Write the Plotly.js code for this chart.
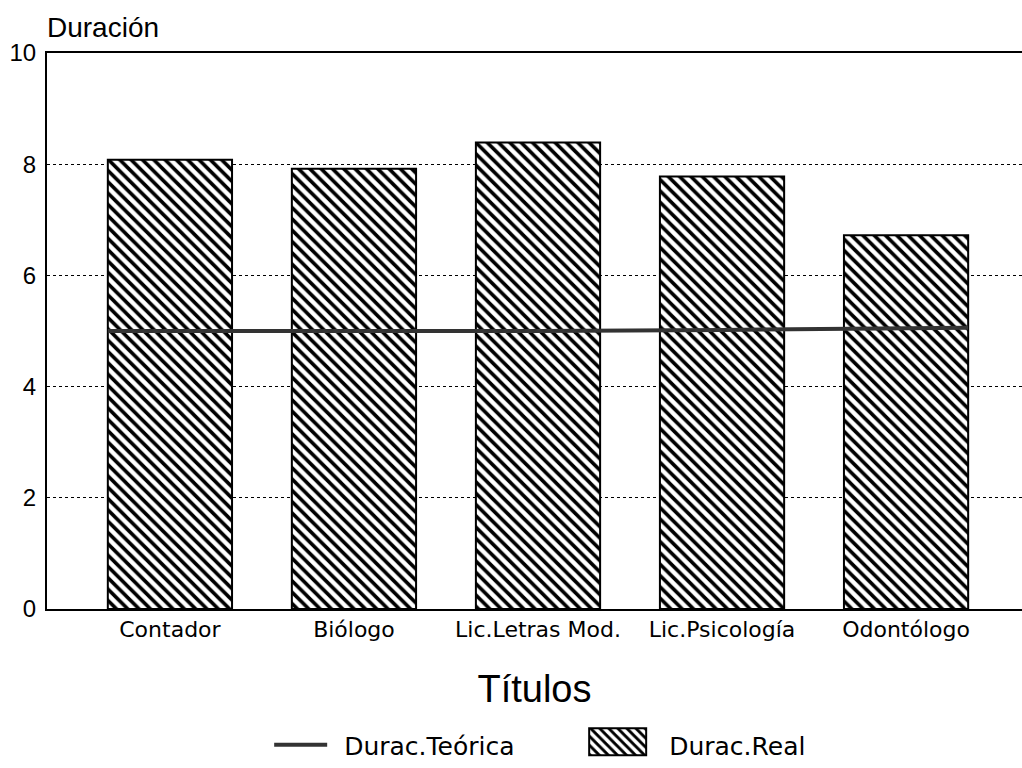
<!DOCTYPE html>
<html>
<head>
<meta charset="utf-8">
<script src="https://cdn.plot.ly/plotly-3.0.1.min.js"></script>
<style>html,body{margin:0;padding:0;background:#fff;}#chart{width:1022px;height:768px;}</style>
</head>
<body>
<div id="chart"></div>
<script>
// Data
const categories = ["Contador", "Biólogo", "Lic.Letras Mod.", "Lic.Psicología", "Odontólogo"];
const duracReal = [8.08, 7.92, 8.39, 7.78, 6.72];
const duracTeorica = [5.0, 5.0, 5.0, 5.02, 5.06];
const yTicks = [0, 2, 4, 6, 8, 10];

const barWidth = 0.675;
const idx = categories.map((_, i) => i);

// Theoretical line spans from left edge of first bar to right edge of last bar
const lineX = [idx[0] - barWidth / 2].concat(idx, [idx[idx.length - 1] + barWidth / 2]);
const lineY = [duracTeorica[0]].concat(duracTeorica, [duracTeorica[duracTeorica.length - 1]]);

const SANS = "Liberation Sans, Arial, sans-serif";
const WIDE = "DejaVu Sans, Verdana, sans-serif";

const traces = [
  {
    type: "bar",
    name: "Durac.Real",
    x: idx,
    y: duracReal,
    width: barWidth,
    marker: {
      color: "#ffffff",
      line: {color: "#000000", width: 2},
      pattern: {shape: "\\", fgcolor: "#000000", bgcolor: "#ffffff", size: 8, solidity: 0.45}
    },
    hoverinfo: "skip"
  },
  {
    type: "scatter",
    mode: "lines",
    name: "Durac.Teórica",
    x: lineX,
    y: lineY,
    line: {color: "#333333", width: 4},
    hoverinfo: "skip"
  }
];

const layout = {
  width: 1022,
  height: 768,
  margin: {l: 47, r: 0, t: 53, b: 157},
  paper_bgcolor: "#ffffff",
  plot_bgcolor: "#ffffff",
  font: {family: SANS, color: "#000000"},
  showlegend: true,
  legend: {
    orientation: "h",
    x: 0.233, xanchor: "left",
    y: -0.245, yanchor: "middle",
    traceorder: "reversed",
    font: {family: WIDE, size: 25, color: "#000"},
    entrywidth: 250,
    itemwidth: 60
  },
  xaxis: {
    range: [-0.668, 4.63],
    tickvals: idx,
    ticktext: categories,
    tickfont: {family: WIDE, size: 22, color: "#000"},
    ticks: "",
    showgrid: false,
    zeroline: false,
    showline: true,
    linecolor: "#000",
    linewidth: 2,
    mirror: true,
    automargin: false,
    ticklabelstandoff: 0,
    title: {text: "Títulos", font: {family: SANS, size: 38, color: "#000"}, standoff: 34}
  },
  yaxis: {
    range: [0, 10],
    tickvals: yTicks,
    ticktext: yTicks.map(String),
    tickfont: {family: SANS, size: 24, color: "#000"},
    ticks: "",
    showgrid: true,
    gridcolor: "#000",
    gridwidth: 1,
    griddash: "dot",
    zeroline: false,
    showline: true,
    linecolor: "#000",
    linewidth: 2,
    automargin: false,
    ticklabelstandoff: 4
  },
  annotations: [
    {
      text: "Duración",
      xref: "paper", yref: "paper",
      x: -0.002, y: 1.045,
      xanchor: "left", yanchor: "middle",
      showarrow: false,
      font: {family: SANS, size: 28, color: "#000"}
    }
  ]
};

Plotly.newPlot("chart", traces, layout, {displayModeBar: false, staticPlot: true}).then(function (gd) {
  // enlarge legend symbols to resemble the reference key
  gd.querySelectorAll(".legend .traces").forEach(function (tr) {
    const txt = tr.querySelector("text.legendtext");
    if (!txt) return;
    const textLeft = txt.getBoundingClientRect().left;
    const isBar = txt.textContent === "Durac.Real";
    const sel = isBar ? ".legendpoints path" : ".legendlines path";
    tr.querySelectorAll(sel).forEach(function (p) {
      const w = isBar ? 57 : 58;
      const gap = isBar ? 23 : 17;
      const shape = function (x0) {
        return isBar ? ("M" + x0 + ",-16.5h" + w + "v27h-" + w + "z") : ("M" + x0 + ",0h" + w);
      };
      p.setAttribute("d", shape(0));
      const cur = p.getBoundingClientRect().left;
      const want = textLeft - gap - w;
      p.setAttribute("d", shape(want - cur));
      if (isBar) { p.style.strokeWidth = "2px"; p.style.stroke = "#000"; }
    });
  });
});
</script>
</body>
</html>
